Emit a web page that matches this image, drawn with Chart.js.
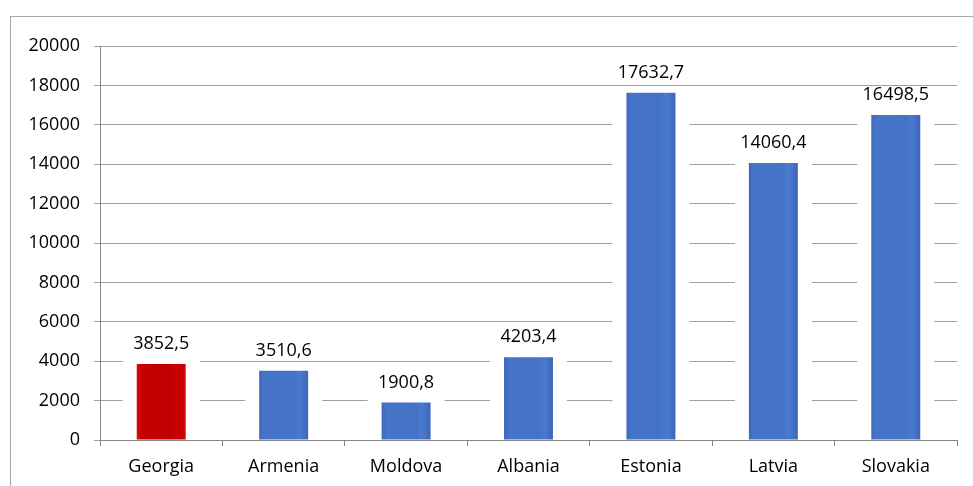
<!DOCTYPE html>
<html>
<head>
<meta charset="utf-8">
<script src="https://cdn.jsdelivr.net/npm/chart.js@4.4.0/dist/chart.umd.min.js"></script>
<style>
  body { margin: 0; background: #fff; }
  #wrap { width: 973px; height: 486px; }
</style>
</head>
<body>
<div id="wrap"><canvas id="gdpChart" width="973" height="486"></canvas></div>
<script>
// data
const countries = ["Georgia", "Armenia", "Moldova", "Albania", "Estonia", "Latvia", "Slovakia"];
const gdpValues = [3852.5, 3510.6, 1900.8, 4203.4, 17632.7, 14060.4, 16498.5];
const yTicks = [0, 2000, 4000, 6000, 8000, 10000, 12000, 14000, 16000, 18000, 20000];

const FONT = "'Open Sans', 'DejaVu Sans', sans-serif";

function fmt(v) {
    return v.toFixed(1).replace('.', ',');
}

// bar fill: soft horizontal gradient, red for Georgia
function barFill(context) {
    const chart = context.chart;
    const i = context.dataIndex;
    const red = i === 0;
    if (!chart.chartArea || !chart.scales.x) return red ? '#c00000' : '#4472c4';
    const cx = chart.scales.x.getPixelForValue(i);
    const w = (chart.chartArea.right - chart.chartArea.left) / countries.length * 0.4;
    const g = chart.ctx.createLinearGradient(cx - w / 2, 0, cx + w / 2, 0);
    if (red) {
        g.addColorStop(0, '#dc0a0a');
        g.addColorStop(0.1, '#c60000');
        g.addColorStop(0.7, '#c00000');
        g.addColorStop(0.82, '#cc0404');
        g.addColorStop(0.92, '#c20000');
        g.addColorStop(1, '#da0a0a');
    } else {
        g.addColorStop(0, '#4068bc');
        g.addColorStop(0.1, '#4674c9');
        g.addColorStop(0.7, '#4472c6');
        g.addColorStop(0.82, '#4a7acd');
        g.addColorStop(0.92, '#4370c5');
        g.addColorStop(1, '#3d64b6');
    }
    return g;
}

// outer frame of the chart
const framePlugin = {
    id: 'frame',
    beforeDraw(chart) {
        const ctx = chart.ctx;
        ctx.save();
        ctx.fillStyle = '#fff';
        ctx.fillRect(0, 0, chart.width, chart.height);
        ctx.strokeStyle = '#a6a6a6';
        ctx.lineWidth = 1;
        ctx.strokeRect(10.5, 16.5, chart.width + 20, chart.height + 20);
        ctx.restore();
    }
};

// white glow around bars covering the grid
const haloPlugin = {
    id: 'halo',
    beforeDatasetsDraw(chart) {
        const ctx = chart.ctx;
        const bars = chart.getDatasetMeta(0).data;
        ctx.save();
        ctx.fillStyle = '#fff';
        bars.forEach(b => {
            const left = b.x - b.width / 2 - 14;
            const top = b.y - 6;
            ctx.fillRect(left, top, b.width + 28, b.base - 1 - top);
        });
        ctx.restore();
    }
};

// value labels above bars
const labelPlugin = {
    id: 'valueLabels',
    afterDatasetsDraw(chart) {
        const ctx = chart.ctx;
        const bars = chart.getDatasetMeta(0).data;
        ctx.save();
        ctx.font = "18px " + FONT;
        ctx.fillStyle = '#000';
        ctx.textAlign = 'center';
        ctx.textBaseline = 'alphabetic';
        bars.forEach((b, i) => {
            ctx.fillText(fmt(gdpValues[i]), b.x, b.y - 15);
        });
        ctx.restore();
    }
};

const ctx = document.getElementById('gdpChart');
new Chart(ctx, {
    type: 'bar',
    data: {
        labels: countries,
        datasets: [{
            data: gdpValues,
            backgroundColor: barFill,
            borderWidth: 0,
            categoryPercentage: 1,
            barPercentage: 0.4
        }]
    },
    options: {
        responsive: false,
        animation: false,
        devicePixelRatio: 1,
        layout: {
            padding: { left: 0, top: 46, right: 16, bottom: 0 }
        },
        scales: {
            x: {
                grid: {
                    drawOnChartArea: false,
                    drawTicks: true,
                    tickLength: 6,
                    color: '#868686'
                },
                border: { color: '#868686', width: 1 },
                ticks: {
                    color: '#000',
                    padding: 10,
                    font: { family: FONT, size: 18 },
                    maxRotation: 0
                },
                afterFit(scale) { scale.height = 46; }
            },
            y: {
                min: 0,
                max: 20000,
                afterBuildTicks(scale) {
                    scale.ticks = yTicks.map(v => ({ value: v }));
                },
                grid: {
                    color: '#a0a0a0',
                    tickLength: 6,
                    drawTicks: true
                },
                border: { color: '#868686', width: 1 },
                ticks: {
                    color: '#000',
                    padding: 14,
                    font: { family: FONT, size: 18 },
                    callback: v => String(v)
                },
                afterFit(scale) { scale.width = 100; }
            }
        },
        plugins: {
            legend: { display: false },
            tooltip: { enabled: false }
        }
    },
    plugins: [framePlugin, haloPlugin, labelPlugin]
});
</script>
</body>
</html>
